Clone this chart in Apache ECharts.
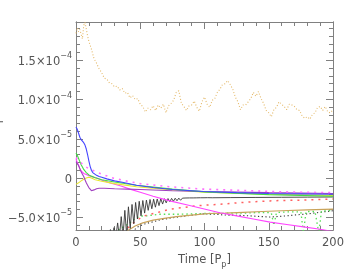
<!DOCTYPE html>
<html><head><meta charset="utf-8">
<script src="https://cdn.jsdelivr.net/npm/echarts@6/dist/echarts.min.js"></script>
<style>html,body{margin:0;padding:0;background:#fff}#c{width:354px;height:275px}</style>
</head><body><div id="c"></div>
<script>
// values in units of 1e-5
const xTicks = [0, 50, 100, 150, 200];
const yTickValues = [-5, 0, 5, 10, 15];
const yTickLabels = ['\u22125.0\u00d710{s|\u22125}', '0', '5.0\u00d710{s|\u22125}', '1.0\u00d710{s|\u22124}', '1.5\u00d710{s|\u22124}'];

const orangeT = [0,1,2,3,4,5,6,7,8,9,10,12,14,16,18,20,22,24,26,28,30,32,34,36,38,40,42,44,46,48,50,52,54,56,58,60,62,64,66,68,70,72,74,76,78,80,82,84,86,88,90,92,94,96,98,100,102,104,106,108,110,112,114,116,118,120,122,124,126,128,130,132,134,136,138,140,142,144,146,148,150,152,154,156,158,160,162,164,166,168,170,172,174,176,178,180,182,184,186,188,190,192,194,196,198,200];
const orangeV = [18.4,19.1,18.6,18.9,18.3,17.7,19.4,19.8,19.6,18.1,17.4,16.4,15.2,14.6,13.9,13.4,12.7,12.6,12.1,12.0,11.6,11.7,11.2,11.4,10.8,10.9,10.2,10.5,10.0,10.1,9.4,9.1,8.4,8.9,8.7,9.2,8.6,9.3,8.9,9.4,8.3,9.2,9.5,9.9,10.9,11.1,9.5,9.1,8.6,9.2,9.3,9.8,9.0,8.5,9.7,10.3,9.4,9.0,9.9,10.1,10.9,11.3,11.9,12.0,12.4,11.9,11.3,10.3,9.7,8.7,9.3,9.3,9.7,10.1,10.9,10.4,11.0,10.1,9.5,8.6,8.3,7.8,8.7,9.0,9.7,9.4,9.1,8.7,9.4,9.3,9.1,8.7,8.6,7.9,7.6,7.8,7.5,8.1,8.3,9.0,9.1,8.6,9.1,8.4,8.3,8.7];

const blueT = [0,1,2,3,4,5,6,7,8,9,10,11,12,13,14,16,18,20,24,30,37,47,60,75,99,125,150,175,200];
const blueV = [6.5,6.2,5.7,5.2,4.9,4.7,4.5,4.2,3.7,3.0,2.2,1.5,1.0,0.7,0.5,0.35,0.2,0.1,-0.1,-0.35,-0.55,-0.9,-1.2,-1.45,-1.7,-1.85,-1.95,-2.0,-2.05];

const greenT = [0,1,2,3,4,5,6,7,8,10,12,15,20,30,47,75,100,150,200];
const greenV = [3.2,2.9,2.5,2.1,1.7,1.4,1.1,0.9,0.7,0.4,0.25,0.05,-0.2,-0.5,-0.9,-1.4,-1.75,-2.1,-2.3];

const yellowT = [0,2,4,6,8,10,12,15,20,30,47,75,100,150,200];
const yellowV = [-0.8,-0.6,-0.35,-0.15,0,0.1,0.0,-0.2,-0.4,-0.7,-1.1,-1.5,-1.8,-2.05,-2.2];

const purpleT = [0,1,2,3,4,5,6,7,8,9,10,11,12,13,14,16,18,22,30,40,50,75,100,150,200];
const purpleV = [2.1,1.9,1.6,1.2,0.8,0.5,0.2,-0.2,-0.6,-0.9,-1.2,-1.45,-1.6,-1.6,-1.5,-1.35,-1.3,-1.3,-1.35,-1.4,-1.45,-1.6,-1.7,-1.85,-1.95];

const magentaT = [0,1,2,3,4,6,8,10,13,16,21,26,35,42,50,60,73,86,99,112,125,138,151,164,177,190,200];
const magentaV = [2.4,2.0,1.6,1.2,0.9,0.6,0.45,0.3,0.15,0.0,-0.3,-0.6,-1.0,-1.4,-1.8,-2.3,-2.9,-3.4,-3.9,-4.4,-4.8,-5.2,-5.6,-5.9,-6.2,-6.5,-6.8];

const pinkDotT = [0,3,6,10,13,20,29,40,50,73,99,125,151,175,200];
const pinkDotV = [2.6,2.1,1.6,1.2,1.0,0.5,0.0,-0.4,-0.7,-1.1,-1.4,-1.55,-1.7,-1.8,-1.85];

const blackT = [24.0,25.4,26.8,28.2,29.6,31.0,32.4,33.8,35.2,36.6,38.0,39.4,40.8,42.2,43.6,45.0,46.4,47.8,49.2,50.6,52.0,53.4,54.8,56.2,57.6,59.0,60.4,61.8,63.2,64.6,66.0,67.4,68.8,70.2,71.6,73.0,74.4,75.8,77.2,78.6,80.0,81.4,82.8,84.2,85.6,87.0,88.4,89.8,91.2,92.6,94.0,95.4,96.8,98.2,99.6,101.0,102.4,103.8,106,120,140,160,180,200];
const blackV = [-6.75,-7.5,-6.55,-7.5,-6.3,-7.5,-5.7,-7.5,-4.9,-7.5,-4.1,-7.2,-3.65,-6.4,-3.35,-5.8,-3.1,-5.2,-2.95,-4.8,-2.85,-4.45,-2.8,-4.1,-2.72,-3.9,-2.68,-3.7,-2.65,-3.5,-2.63,-3.3,-2.62,-3.15,-2.6,-3.0,-2.58,-2.95,-2.56,-2.88,-2.55,-2.82,-2.55,-2.77,-2.53,-2.72,-2.52,-2.67,-2.52,-2.63,-2.51,-2.6,-2.5,-2.57,-2.5,-2.55,-2.49,-2.52,-2.5,-2.48,-2.46,-2.44,-2.42,-2.4];

const redDotT = [36,40,42,46,52,55,65,73,78,90,99,111,125,134,151,160,175,195,200];
const redDotV = [-6.9,-6.4,-6.1,-5.5,-4.9,-4.7,-4.3,-3.95,-3.85,-3.6,-3.45,-3.35,-3.15,-3.05,-2.9,-2.85,-2.8,-2.7,-2.65];

const tanT = [38,42,46,52,60,70,78,90,104,116,130,145,160,180,200];
const tanV = [-6.9,-6.5,-6.1,-5.7,-5.35,-5.1,-4.9,-4.7,-4.5,-4.45,-4.35,-4.25,-4.15,-4.05,-3.95];

const greenDotT = [30,34,37,41,45,48,52,56,60,65,70,80,90,100,110,120,130,140,150,152,154,156,158,165,175,177,179,186,189,191,195,200];
const greenDotV = [-6.9,-6.5,-6.2,-5.8,-5.3,-5.0,-4.8,-4.8,-4.7,-4.6,-4.6,-4.6,-4.55,-4.5,-4.5,-4.45,-4.45,-4.4,-4.4,-4.45,-6.0,-4.4,-4.35,-4.3,-4.3,-7.0,-4.25,-4.25,-7.0,-4.2,-4.15,-4.1];

const blackDotT = [44,47,52,60,66,73,86,99,108,116,125,135,143,151,160,170,180,190,200];
const blackDotV = [-6.9,-6.3,-5.9,-5.55,-5.3,-5.1,-4.8,-4.55,-4.6,-4.7,-4.72,-4.8,-4.88,-4.95,-4.85,-4.7,-4.55,-4.35,-4.15];

const zip = (a, b) => a.map((t, i) => [t, b[i]]);

const AX = '#808080';
const LBL = '#555';
const FONT = 'DejaVu Sans';
const YMIN = -6.6, YMAX = 19.85;
const minorY = [];
for (let v = -6; v <= 19; v++) if (v % 5 !== 0) minorY.push(v);

function fmtY(v) {
  const i = yTickValues.findIndex(x => Math.abs(x - v) < 1e-6);
  if (i < 0) return '';
  const s = yTickLabels[i];
  const k = s.indexOf('{s|');
  return k < 0 ? '{a|' + s + '}' : '{a|' + s.slice(0, k) + '}' + s.slice(k);
}
function yAx(pos, major, showLabel) {
  return {
    type: 'value', min: YMIN, max: YMAX, position: pos,
    axisLine: { show: true, lineStyle: { color: AX, width: 1 } },
    axisTick: { show: true, inside: true, length: major ? 7 : 4, customValues: major ? yTickValues : minorY, lineStyle: { color: AX } },
    axisLabel: showLabel ? {
      show: true, customValues: yTickValues, margin: 4, color: LBL, fontFamily: FONT, fontSize: 11.5,
      formatter: fmtY,
      rich: { a: { fontSize: 11.5, fontFamily: FONT, color: LBL, lineHeight: 16, verticalAlign: 'bottom' },
              s: { fontSize: 8, fontFamily: FONT, color: LBL, lineHeight: 16, verticalAlign: 'top' } }
    } : { show: false },
    splitLine: { show: false }
  };
}
function xAx(pos, showLabel) {
  return {
    type: 'value', min: 0, max: 200, interval: 50, position: pos,
    axisLine: { show: true, onZero: false, lineStyle: { color: AX, width: 1 } },
    axisTick: { show: true, inside: true, length: 7, lineStyle: { color: AX } },
    minorTick: { show: true, splitNumber: 5, length: 4, lineStyle: { color: AX } },
    axisLabel: showLabel ? { show: true, margin: 7, color: LBL, fontFamily: FONT, fontSize: 11.5 } : { show: false },
    splitLine: { show: false }, minorSplitLine: { show: false },
    name: showLabel ? 'Time [P{sub|p}]' : '', nameLocation: 'middle', nameGap: 20,
    nameTextStyle: { color: LBL, fontFamily: FONT, fontSize: 11.5,
      rich: { sub: { fontSize: 8, fontFamily: FONT, color: LBL, verticalAlign: 'bottom', padding: [0, 0, -3, 0] } } }
  };
}
function line(data, color, type, width, z) {
  return { type: 'line', data, showSymbol: false, symbol: 'none', clip: true, z: z || 2,
    lineStyle: { color, type: type || 'solid', width: width || 1 }, animation: false, silent: true };
}

const chart = echarts.init(document.getElementById('c'), null, { renderer: 'canvas' });
chart.setOption({
  animation: false,
  grid: { left: 76, right: 21, top: 22, bottom: 45, containLabel: false },
  xAxis: [xAx('bottom', true), xAx('top', false)],
  yAxis: [yAx('left', true, true), yAx('left', false, false), yAx('right', true, false), yAx('right', false, false)],
  graphic: [{ type: 'text', x: 3, y: 125, rotation: Math.PI / 2,
    style: { text: 'Torque', fill: LBL, font: '11.5px "DejaVu Sans"', textAlign: 'center', textVerticalAlign: 'bottom' } }],
  series: [
    line(zip(orangeT, orangeV), '#e4b867', [1, 2], 1.1, 1),
    line(zip(blackDotT, blackDotV), '#333', [1.2, 2.5], 1.1),
    line(zip(greenDotT, greenDotV), '#55e055', [1.5, 3], 1.3),
    line(zip(tanT, tanV), '#c9a35a', 'solid', 1.2),
    line(zip(redDotT, redDotV), '#ff6060', [2, 5], 1.5),
    line(zip(blackT, blackV), '#383838', 'solid', 0.9),
    line(zip(magentaT, magentaV), '#ff44ff', 'solid', 1.1),
    line(zip(yellowT, yellowV), '#e8e830', 'solid', 1.1),
    line(zip(purpleT, purpleV), '#a040c0', 'solid', 1.1),
    line(zip(greenT, greenV), '#44dd44', 'solid', 1.1),
    line(zip(pinkDotT, pinkDotV), '#ff70ff', [2, 5], 1.6),
    line(zip(blueT, blueV), '#4444ff', 'solid', 1.1)
  ]
});
</script></body></html>
